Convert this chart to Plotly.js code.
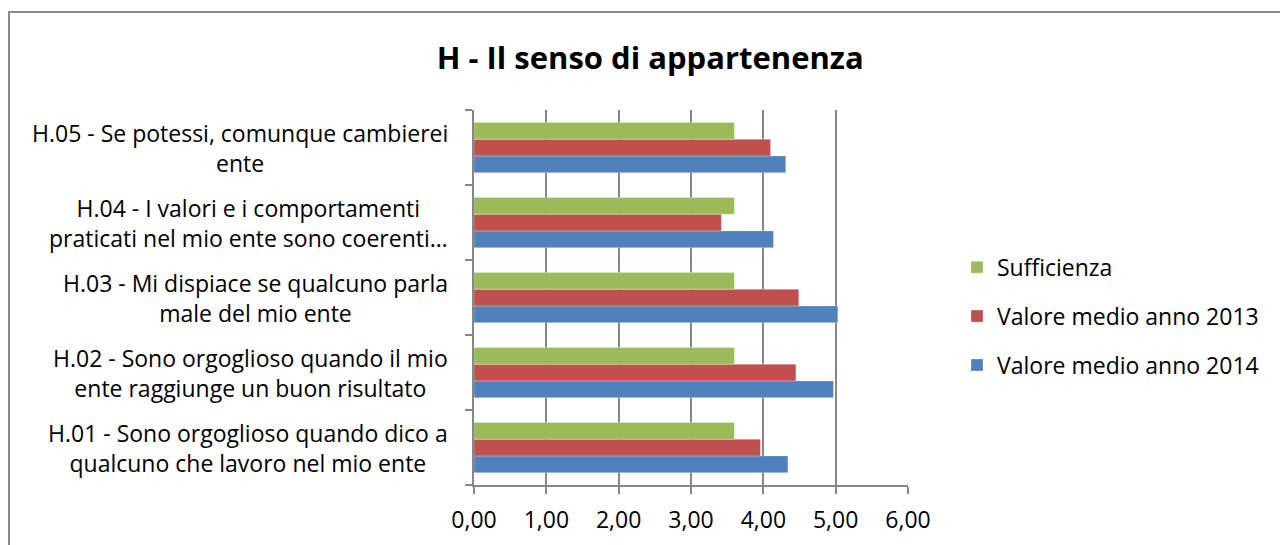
<!DOCTYPE html>
<html>
<head>
<meta charset="utf-8">
<script src="https://cdn.plot.ly/plotly-3.0.1.min.js"></script>
<style>
html,body{margin:0;padding:0;background:#fff;}
#chart{width:1280px;height:545px;}
</style>
</head>
<body>
<div id="chart"></div>
<script>
const categories = ["H.01", "H.02", "H.03", "H.04", "H.05"];
const categoryLabels = [
  "H.01 - Sono orgoglioso quando dico a<br>qualcuno che lavoro nel mio ente",
  "H.02 - Sono orgoglioso quando il mio<br>ente raggiunge un buon risultato",
  "H.03 - Mi dispiace se qualcuno parla<br>male del mio ente",
  "H.04 - I valori e i comportamenti<br>praticati nel mio ente sono coerenti…",
  "H.05 - Se potessi, comunque cambierei<br>ente"
];
const valori2014 = [4.34, 4.97, 5.03, 4.14, 4.31];
const valori2013 = [3.96, 4.45, 4.49, 3.42, 4.10];
const sufficienza = [3.60, 3.60, 3.60, 3.60, 3.60];
const seriesNames = ["Valore medio anno 2014", "Valore medio anno 2013", "Sufficienza"];
const xTicks = [0, 1, 2, 3, 4, 5, 6];

const FONT = "'Open Sans', sans-serif";

const mk = (vals, name, color, grp, rank) => ({
  type: "bar", orientation: "h", y: categories, x: vals, name: name,
  legendgroup: grp, legendrank: rank,
  marker: {color: color, line: {color: "rgba(255,255,255,0.6)", width: 0.5}}
});

const data = [
  mk(valori2014, seriesNames[0], "#4F81BD", "c", 3),
  mk(valori2013, seriesNames[1], "#C0504D", "b", 2),
  mk(sufficienza, seriesNames[2], "#9BBB59", "a", 1)
];

const annotations = categories.map((c, i) => ({
  xref: "paper", yref: "y", x: (450 - 474) / 434, y: c,
  xanchor: "right", yanchor: "middle", align: "center",
  text: categoryLabels[i], showarrow: false,
  font: {family: FONT, size: 23, color: "#000"}
}));

const layout = {
  width: 1280, height: 545,
  margin: {l: 474, r: 372, t: 110, b: 60, pad: 0},
  paper_bgcolor: "#fff", plot_bgcolor: "#fff",
  separators: ",.",
  font: {family: FONT, size: 23, color: "#000"},
  title: {text: "<b>H - Il senso di appartenenza</b>", x: 0.508, xanchor: "center",
          y: 0.893, yanchor: "middle", font: {family: FONT, size: 31, color: "#000"}},
  barmode: "group", bargap: 0.33, bargroupgap: 0,
  xaxis: {range: [0, 6], tickvals: xTicks, tickformat: ".2f",
          showgrid: true, gridcolor: "#878787", gridwidth: 2,
          showline: true, linecolor: "#878787", linewidth: 2,
          ticks: "outside", ticklen: 7, tickcolor: "#878787", tickwidth: 2,
          ticklabelstandoff: 6,
          zeroline: false, fixedrange: true,
          tickfont: {family: FONT, size: 23, color: "#000"}},
  yaxis: {type: "category", showticklabels: false, tickson: "boundaries",
          ticks: "outside", ticklen: 7, tickcolor: "#878787", tickwidth: 2,
          showline: true, linecolor: "#878787", linewidth: 2,
          showgrid: false, zeroline: false, fixedrange: true},
  legend: {x: (957 - 474) / 434, xanchor: "left", y: 0.45, yanchor: "middle",
           traceorder: "grouped", tracegroupgap: 16,
           font: {family: FONT, size: 23, color: "#000"},
           itemwidth: 30, bgcolor: "rgba(0,0,0,0)"},
  annotations: annotations,
  shapes: [{type: "rect", xref: "paper", yref: "paper",
            x0: (9 - 474) / 434, x1: (1300 - 474) / 434,
            y0: (485 - 600) / 375, y1: (485 - 12) / 375,
            line: {color: "#888", width: 2}, fillcolor: "rgba(0,0,0,0)", layer: "below"}]
};

Plotly.newPlot("chart", data, layout, {displayModeBar: false, staticPlot: true});
</script>
</body>
</html>
